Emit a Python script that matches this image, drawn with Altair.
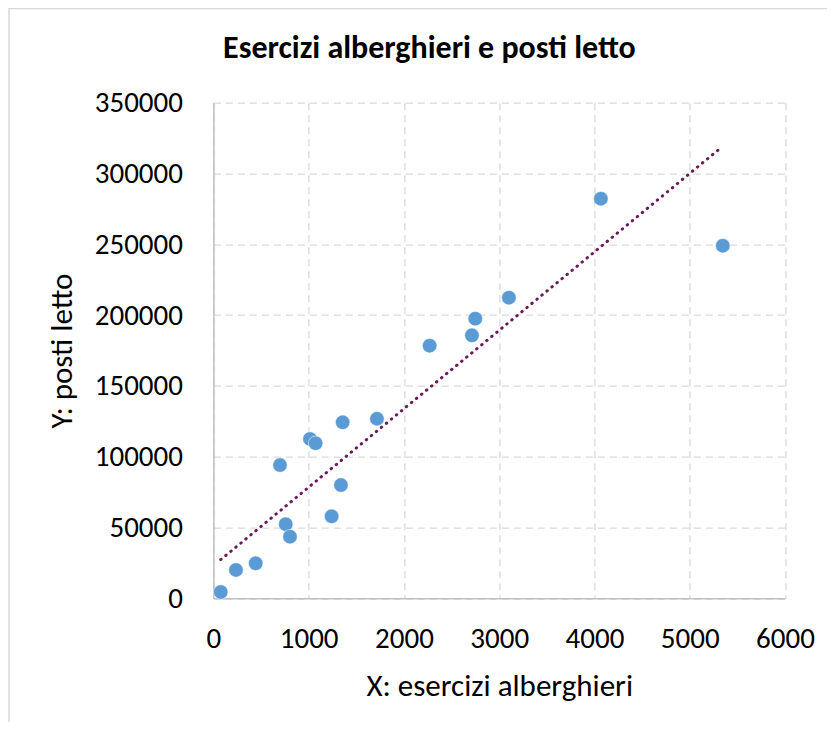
import altair as alt
import pandas as pd

# Data
esercizi = [77, 237, 444, 699, 759, 804, 1014, 1073, 1241, 1339, 1357, 1717,
            2270, 2714, 2749, 3102, 4067, 5347]
posti = [4450, 20000, 24700, 94100, 52300, 43500, 112500, 109500, 57900, 80000,
         124300, 126800, 178400, 185700, 197500, 212300, 282200, 249000]

# Linear trendline (endpoints)
trend_x = [77, 5330]
trend_y = [27300, 318300]

x_ticks = [0, 1000, 2000, 3000, 4000, 5000, 6000]
y_ticks = [0, 50000, 100000, 150000, 200000, 250000, 300000, 350000]

title_text = ["Esercizi alberghieri e posti letto"]

df = pd.DataFrame({"x": esercizi, "y": posti})
tdf = pd.DataFrame({"x": trend_x, "y": trend_y})

FONT = "Carlito, Calibri, Lato, sans-serif"

xscale = alt.Scale(domain=[0, 6000], nice=False)
yscale = alt.Scale(domain=[0, 350000], nice=False)

xaxis = alt.Axis(values=x_ticks, title="X: esercizi alberghieri", format="d",
                 labelFontSize=29, titleFontSize=31, labelFont=FONT, titleFont=FONT,
                 labelColor="#000000", titleColor="#000000", titleFontWeight="normal",
                 ticks=False, labelPadding=26, titlePadding=18, labelFlush=False,
                 labelOverlap=False,
                 domainColor="#bfbfbf", domainWidth=1.5,
                 grid=True, gridColor="#d9d9d9", gridDash=[7, 5], gridWidth=1.3)
yaxis = alt.Axis(values=y_ticks, title="Y: posti letto", format="d",
                 labelFontSize=29, titleFontSize=31, labelFont=FONT, titleFont=FONT,
                 labelColor="#000000", titleColor="#000000", titleFontWeight="normal",
                 ticks=False, labelPadding=31, titlePadding=16, labelFlush=False,
                 labelOverlap=False,
                 domainColor="#bfbfbf", domainWidth=1.5,
                 grid=True, gridColor="#d9d9d9", gridDash=[7, 5], gridWidth=1.3)

border = alt.Chart(pd.DataFrame({"a": [0]})).mark_rect(
    fill="#ffffff", fillOpacity=0, stroke="#d9d9d9", strokeWidth=1.5, clip=False
).encode(x=alt.value(-204.4), x2=alt.value(640), y=alt.value(-94.2), y2=alt.value(640))

title = alt.Chart(pd.DataFrame({"t": title_text})).mark_text(
    font=FONT, fontSize=32, fontWeight="bold", color="#000000",
    align="center", baseline="alphabetic", clip=False
).encode(text="t:N", x=alt.value(216), y=alt.value(-44.5))

points = alt.Chart(df).mark_circle(size=210, color="#5b9bd5", opacity=1,
                                   stroke="#ffffff", strokeWidth=0.5).encode(
    x=alt.X("x:Q", scale=xscale, axis=xaxis),
    y=alt.Y("y:Q", scale=yscale, axis=yaxis),
)

trend = alt.Chart(tdf).mark_line(color="#6a1b5a", strokeWidth=3,
                                 strokeDash=[0.5, 6], strokeCap="round").encode(
    x=alt.X("x:Q", scale=xscale),
    y=alt.Y("y:Q", scale=yscale),
)

chart = alt.layer(border, title, trend, points).properties(
    width=571.6, height=495.6,
    autosize=alt.AutoSizeParams(type="none"),
    padding={"left": 205.4, "top": 94.7, "right": 42, "bottom": 124},
).configure_view(stroke=None)

chart.save("out.html", embed_options={"renderer": "svg", "actions": False})
